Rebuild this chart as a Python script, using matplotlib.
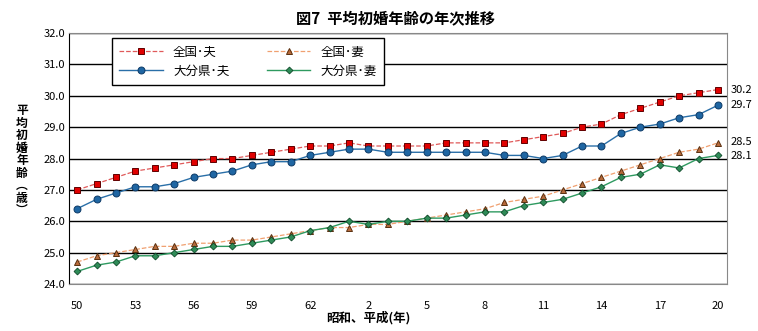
import numpy as np
import matplotlib.pyplot as plt

plt.rcParams['font.family'] = ['Noto Sans CJK JP', 'DejaVu Sans']

# 年次ラベル (昭和50年〜昭和63年、平成元年〜平成20年)
years = [str(y) for y in range(50, 64)] + [str(y) for y in range(1, 21)]

# 平均初婚年齢 (歳)
zenkoku_otto = [27.0, 27.2, 27.4, 27.6, 27.7, 27.8, 27.9, 28.0, 28.0, 28.1,
                28.2, 28.3, 28.4, 28.4, 28.5, 28.4, 28.4, 28.4, 28.4, 28.5,
                28.5, 28.5, 28.5, 28.6, 28.7, 28.8, 29.0, 29.1, 29.4, 29.6,
                29.8, 30.0, 30.1, 30.2]
zenkoku_tsuma = [24.7, 24.9, 25.0, 25.1, 25.2, 25.2, 25.3, 25.3, 25.4, 25.4,
                 25.5, 25.6, 25.7, 25.8, 25.8, 25.9, 25.9, 26.0, 26.1, 26.2,
                 26.3, 26.4, 26.6, 26.7, 26.8, 27.0, 27.2, 27.4, 27.6, 27.8,
                 28.0, 28.2, 28.3, 28.5]
oita_otto = [26.4, 26.7, 26.9, 27.1, 27.1, 27.2, 27.4, 27.5, 27.6, 27.8,
             27.9, 27.9, 28.1, 28.2, 28.3, 28.3, 28.2, 28.2, 28.2, 28.2,
             28.2, 28.2, 28.1, 28.1, 28.0, 28.1, 28.4, 28.4, 28.8, 29.0,
             29.1, 29.3, 29.4, 29.7]
oita_tsuma = [24.4, 24.6, 24.7, 24.9, 24.9, 25.0, 25.1, 25.2, 25.2, 25.3,
              25.4, 25.5, 25.7, 25.8, 26.0, 25.9, 26.0, 26.0, 26.1, 26.1,
              26.2, 26.3, 26.3, 26.5, 26.6, 26.7, 26.9, 27.1, 27.4, 27.5,
              27.8, 27.7, 28.0, 28.1]

x = np.arange(len(years))

fig = plt.figure(figsize=(7.58, 3.31), dpi=100)
ax = fig.add_axes([0.091, 0.142, 0.868, 0.758])

l1, = ax.plot(x, zenkoku_otto, '--', color='#e05a5a', lw=0.9,
              marker='s', ms=5, mfc='#e00000', mec='#600000', mew=0.7, label='全国･夫')
l3, = ax.plot(x, oita_otto, '-', color='#2a6fa8', lw=1.0,
              marker='o', ms=5, mfc='#1f66a3', mec='#0d3a66', mew=0.7, label='大分県･夫')
l2, = ax.plot(x, zenkoku_tsuma, '--', color='#f0a070', lw=0.9,
              marker='^', ms=5, mfc='#b86a3a', mec='#5a3010', mew=0.7, label='全国･妻')
l4, = ax.plot(x, oita_tsuma, '-', color='#2e9a60', lw=1.0,
              marker='D', ms=3.5, mfc='#2e8b57', mec='#0f4a2a', mew=0.6, label='大分県･妻')

# 最終年の値
for vals, dy in [(zenkoku_otto, 0), (oita_otto, 0), (zenkoku_tsuma, 0.02), (oita_tsuma, -0.02)]:
    ax.annotate(f'{vals[-1]:.1f}', (x[-1], vals[-1] + dy), xytext=(9, 0),
                textcoords='offset points', va='center', ha='left', fontsize=8)

ax.set_xlim(-0.42, len(years) - 0.54)
ax.set_ylim(24, 32)
ax.set_yticks(np.arange(24, 32.1, 1))
ax.set_yticklabels([f'{v:.1f}' for v in np.arange(24, 32.1, 1)], fontsize=8)
ax.set_xticks(x[::3])
ax.set_xticklabels(years[::3], fontsize=8)
ax.tick_params(axis='both', length=0)
ax.tick_params(axis='x', pad=12)
ax.tick_params(axis='y', pad=3)
ax.grid(axis='y', color='black', lw=1.0)
ax.set_axisbelow(True)
for s in ['top', 'right', 'bottom']:
    ax.spines[s].set_color('#888888')
ax.spines['left'].set_color('black')

ax.legend(handles=[l1, l3, l2, l4], ncol=2, loc='upper left',
          bbox_to_anchor=(0.065, 0.98), borderaxespad=0, fontsize=9, frameon=True,
          fancybox=False, edgecolor='black', framealpha=1,
          columnspacing=3.0, handlelength=3.5, borderpad=0.6, labelspacing=0.5)

fig.text(0.522, 0.945, '図7  平均初婚年齢の年次推移', ha='center', va='center',
         fontsize=11, fontweight='bold')
fig.text(0.486, 0.04, '昭和、平成(年)', ha='center', va='center',
         fontsize=9, fontweight='bold')
fig.text(0.029, 0.515, '\n'.join('平均初婚年齢︵歳︶'), ha='center', va='center',
         fontsize=8.5, fontweight='bold', linespacing=0.95)

fig.savefig('out.png', dpi=100)
